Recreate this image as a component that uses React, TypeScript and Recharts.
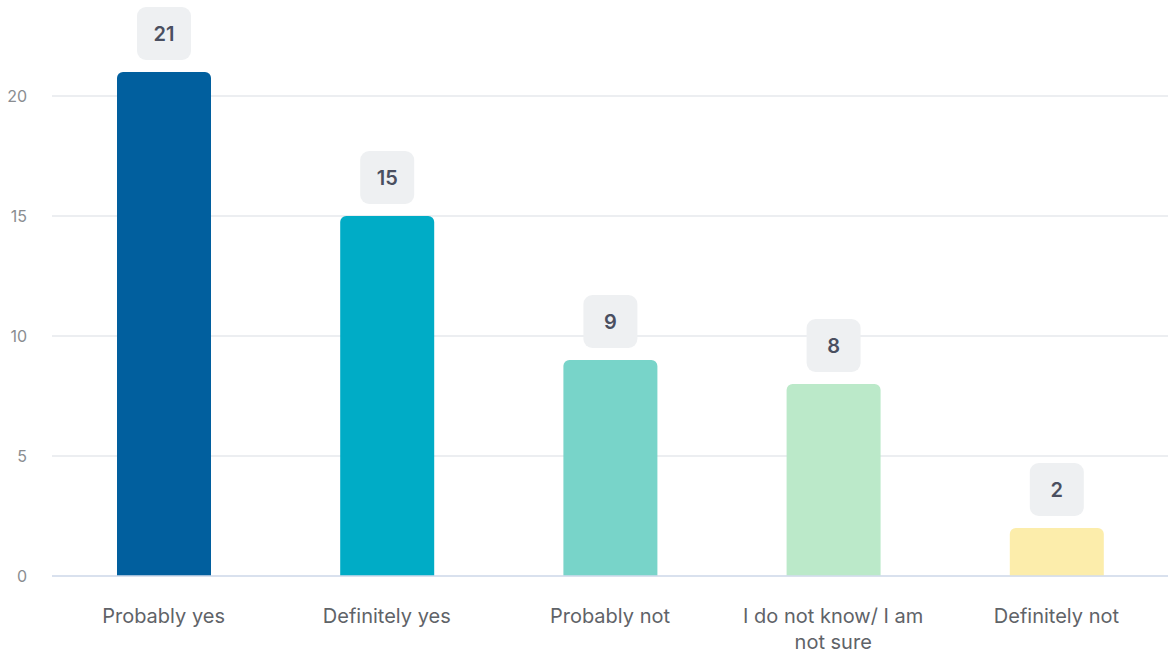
import * as React from "react";
import { BarChart, Bar, XAxis, YAxis, CartesianGrid, Cell, LabelList } from "recharts";

const categories = [
  "Probably yes",
  "Definitely yes",
  "Probably not",
  "I do not know/ I am not sure",
  "Definitely not",
];
const counts = [21, 15, 9, 8, 2];
const barColors = ["#015f9e", "#00acc6", "#78d4c9", "#bbe9c9", "#fcedab"];
const yTicks = [0, 5, 10, 15, 20];

const data = categories.map((name, i) => ({ name, value: counts[i] }));

const FONT = "Inter, 'Noto Sans', sans-serif";

// simple word wrap by character count
function wrapWords(label: string, maxChars: number) {
  const lines: string[] = [];
  let cur = "";
  label.split(" ").forEach((w) => {
    const next = cur ? cur + " " + w : w;
    if (next.length > maxChars && cur) {
      lines.push(cur);
      cur = w;
    } else {
      cur = next;
    }
  });
  if (cur) lines.push(cur);
  return lines;
}

function CategoryTick(props: any) {
  const { x, y, payload } = props;
  const lines = wrapWords(String(payload.value), 20);
  return (
    <text
      x={x}
      y={y + 39}
      textAnchor="middle"
      fill="#5f6368"
      fontSize={20}
      fontFamily={FONT}
    >
      {lines.map((l, i) => (
        <tspan key={i} x={x} dy={i === 0 ? 0 : 26}>
          {l}
        </tspan>
      ))}
    </text>
  );
}

function ValueBadge(props: any) {
  const { x, y, width, value } = props;
  const cx = x + width / 2;
  const w = 54;
  const h = 53;
  const top = y - 12 - h;
  return (
    <g>
      <rect x={cx - w / 2} y={top} width={w} height={h} rx={9} ry={9} fill="#eef0f2" />
      <text
        x={cx}
        y={top + h / 2}
        textAnchor="middle"
        dominantBaseline="central"
        fill="#4a4f60"
        fontSize={20}
        fontWeight={600}
        fontFamily={FONT}
      >
        {value}
      </text>
    </g>
  );
}

export default function App() {
  return (
    <div style={{ position: "absolute", left: 0, top: 0, background: "#fff" }}>
      <BarChart
        width={1170}
        height={652}
        data={data}
        margin={{ top: 72, right: 2, bottom: 0, left: 0 }}
      >
        <CartesianGrid
          vertical={false}
          horizontalValues={yTicks}
          stroke="#e6e8ec"
          strokeWidth={1.5}
        />
        <YAxis
          width={52}
          domain={[0, 21]}
          ticks={yTicks}
          axisLine={false}
          tickLine={false}
          tickSize={0}
          tickMargin={25}
          tick={{ fill: "#8a8d91", fontSize: 16, fontFamily: FONT }}
        />
        <XAxis
          dataKey="name"
          height={76}
          interval={0}
          tickLine={false}
          axisLine={{ stroke: "#d3dcec", strokeWidth: 1.5 }}
          tick={<CategoryTick />}
        />
        <Bar dataKey="value" barSize={94} radius={[6, 6, 0, 0]} isAnimationActive={false}>
          {data.map((d, i) => (
            <Cell key={d.name} fill={barColors[i]} />
          ))}
          <LabelList dataKey="value" content={<ValueBadge />} />
        </Bar>
      </BarChart>
    </div>
  );
}
